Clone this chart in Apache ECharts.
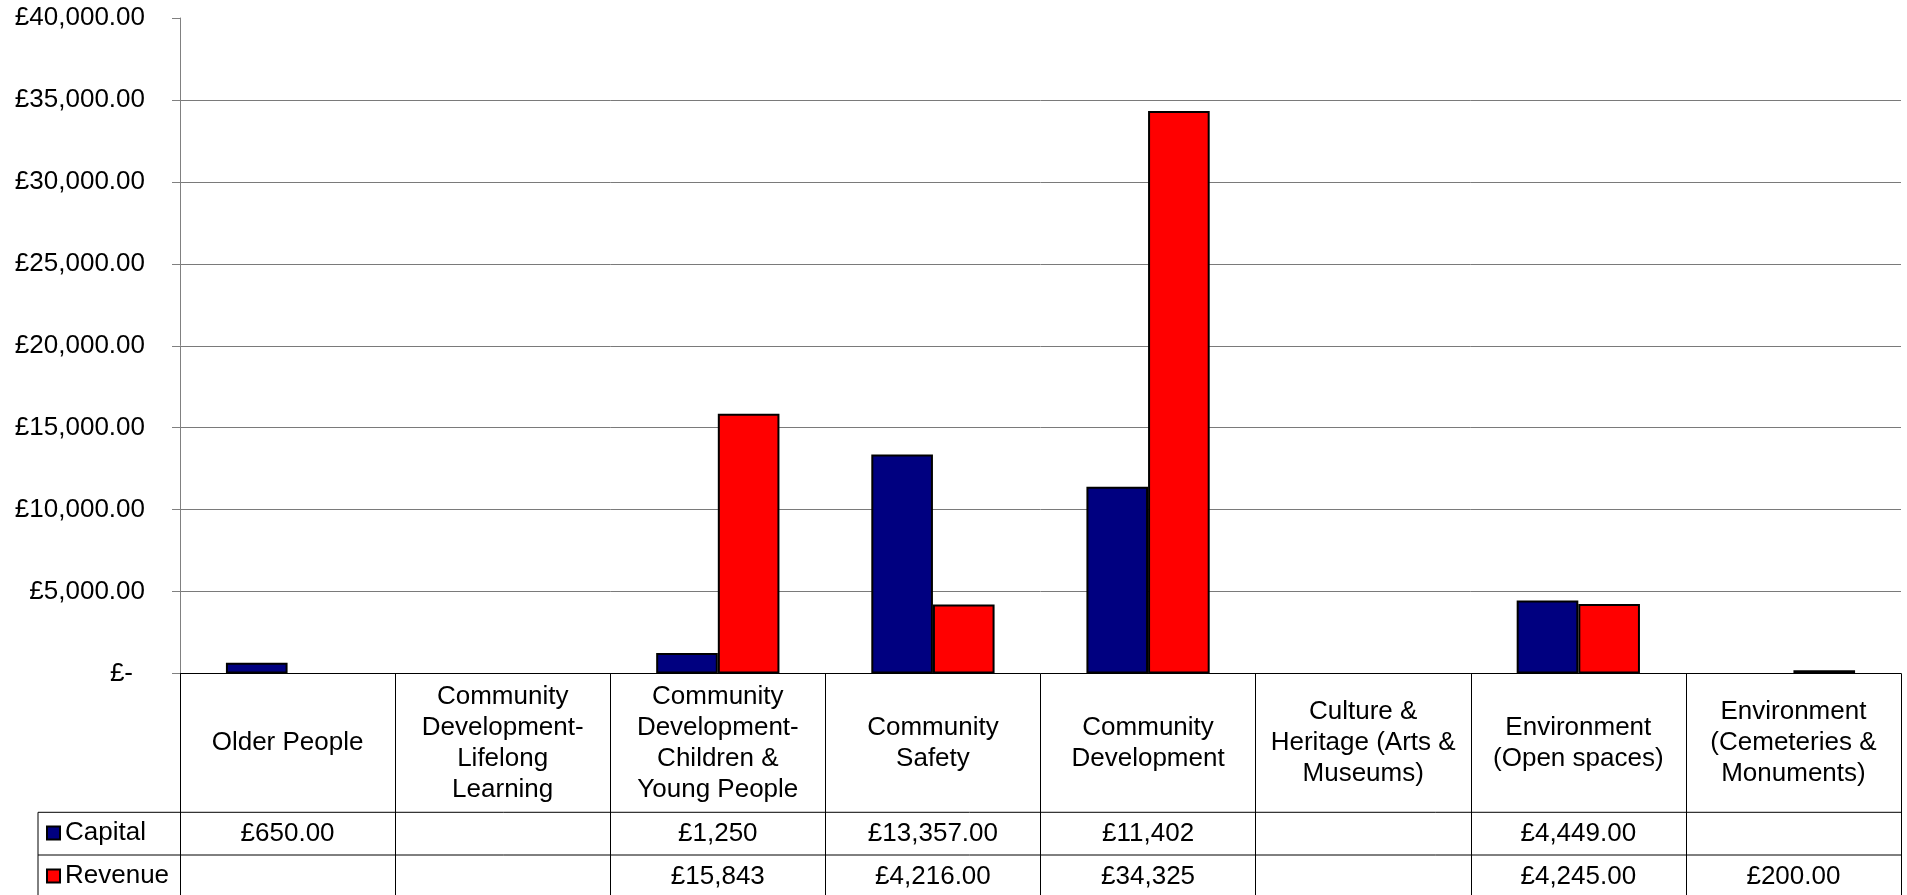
<!DOCTYPE html>
<html>
<head>
<meta charset="utf-8">
<script src="https://cdn.jsdelivr.net/npm/echarts@6/dist/echarts.min.js"></script>
<style>
html,body{margin:0;padding:0;background:#fff;}
#chart{width:1907px;height:895px;}
</style>
</head>
<body>
<div id="chart"></div>
<script>
// ---- data ----
const categories = [
  'Older People',
  'Community\nDevelopment-\nLifelong\nLearning',
  'Community\nDevelopment-\nChildren &\nYoung People',
  'Community\nSafety',
  'Community\nDevelopment',
  'Culture &\nHeritage (Arts &\nMuseums)',
  'Environment\n(Open spaces)',
  'Environment\n(Cemeteries &\nMonuments)'
];
const capitalValues = [650, null, 1250, 13357, 11402, null, 4449, null];
const revenueValues = [null, null, 15843, 4216, 34325, null, 4245, 200];
const capitalLabels = ['£650.00', '', '£1,250', '£13,357.00', '£11,402', '', '£4,449.00', ''];
const revenueLabels = ['', '', '£15,843', '£4,216.00', '£34,325', '', '£4,245.00', '£200.00'];
const yTicks = { min: 0, max: 40000, interval: 5000 };

// ---- layout ----
const FONT = "'Liberation Sans', Arial, sans-serif";
const FS = 26;
const L = 180, R = 1901, TOP = 18, ZERO = 673.5;
const ROW1 = 812.3, ROW2 = 855, ROW3 = 898;
const TBL_LEFT = 38;

function fmtY(v) {
  if (v === 0) return '{z|£-}';
  return '£' + v.toLocaleString('en-GB', {minimumFractionDigits: 2, maximumFractionDigits: 2});
}

const chart = echarts.init(document.getElementById('chart'));
const labelBase = {fontFamily: FONT, fontSize: FS, color: '#000'};

chart.setOption({
  animation: false,
  backgroundColor: '#fff',
  grid: {left: L, right: 1907 - R, top: TOP, bottom: 895 - ZERO, containLabel: false},
  legend: {
    data: ['Capital', 'Revenue'],
    orient: 'vertical',
    left: 46, top: 818,
    padding: 0,
    itemWidth: 13, itemHeight: 13, itemGap: 13,
    icon: 'rect',
    itemStyle: {borderColor: '#000', borderWidth: 2},
    textStyle: {fontFamily: FONT, fontSize: FS, color: '#000', lineHeight: 30},
    selectedMode: false
  },
  xAxis: [
    {
      type: 'category', data: categories, position: 'bottom',
      axisLine: {show: true, lineStyle: {color: '#000', width: 1}},
      axisTick: {show: true, alignWithLabel: false, length: ROW3 - ZERO, lineStyle: {color: '#000', width: 1}, interval: 0},
      axisLabel: Object.assign({}, labelBase, {interval: 0, margin: (ROW1 - ZERO) / 2, verticalAlign: 'middle', align: 'center', lineHeight: 31}),
      splitLine: {show: false}
    },
    {
      type: 'category', data: capitalLabels, position: 'bottom',
      axisLine: {show: false}, axisTick: {show: false},
      axisLabel: Object.assign({}, labelBase, {interval: 0, margin: (ROW1 + ROW2) / 2 - ZERO, verticalAlign: 'middle', align: 'center'})
    },
    {
      type: 'category', data: revenueLabels, position: 'bottom',
      axisLine: {show: false}, axisTick: {show: false},
      axisLabel: Object.assign({}, labelBase, {interval: 0, margin: (ROW2 + ROW3) / 2 - ZERO, verticalAlign: 'middle', align: 'center'})
    }
  ],
  yAxis: {
    type: 'value', min: yTicks.min, max: yTicks.max, interval: yTicks.interval,
    axisLine: {show: true, lineStyle: {color: '#808080', width: 1}},
    axisTick: {show: true, length: 8, lineStyle: {color: '#808080'}},
    axisLabel: Object.assign({}, labelBase, {margin: 35, formatter: fmtY, rich: {z: {fontFamily: FONT, fontSize: FS, color: '#000', padding: [0, 12, 0, 0]}}}),
    splitLine: {show: true, showMinLine: false, showMaxLine: false, lineStyle: {color: '#7a7a7a', width: 1}}
  },
  series: [
    {
      name: 'Capital', type: 'bar', data: capitalValues, xAxisIndex: 0,
      barGap: '0%', barCategoryGap: '42.7%',
      itemStyle: {color: '#000080', borderColor: '#000', borderWidth: 2}
    },
    {
      name: 'Revenue', type: 'bar', data: revenueValues, xAxisIndex: 0,
      barGap: '0%', barCategoryGap: '42.7%',
      itemStyle: {color: '#FF0000', borderColor: '#000', borderWidth: 2}
    }
  ],
  graphic: [
    {type: 'line', shape: {x1: TBL_LEFT, y1: ROW1, x2: R, y2: ROW1}, style: {stroke: '#000', lineWidth: 1}, silent: true},
    {type: 'line', shape: {x1: TBL_LEFT, y1: ROW2, x2: R, y2: ROW2}, style: {stroke: '#000', lineWidth: 1}, silent: true},
    {type: 'line', shape: {x1: TBL_LEFT, y1: ROW3, x2: R, y2: ROW3}, style: {stroke: '#000', lineWidth: 1}, silent: true},
    {type: 'line', shape: {x1: TBL_LEFT, y1: ROW1, x2: TBL_LEFT, y2: ROW3}, style: {stroke: '#000', lineWidth: 1}, silent: true}
  ]
});
</script>
</body>
</html>
